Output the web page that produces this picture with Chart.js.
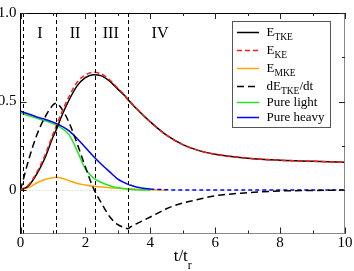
<!DOCTYPE html>
<html><head><meta charset="utf-8">
<script src="https://cdn.jsdelivr.net/npm/chart.js@4"></script>
<style>html,body{margin:0;padding:0;background:#fff;overflow:hidden}#wrap{width:354px;height:271px;position:relative}</style>
</head><body><div id="wrap"><canvas id="c" width="354" height="271"></canvas></div>
<script>
const t        = [0, 0.25, 0.5, 0.75, 1.0, 1.1, 1.25, 1.5, 1.75, 2.0, 2.25, 2.5, 2.75, 3.0, 3.2, 3.3, 3.4, 3.6, 4.0, 4.5, 5, 5.5, 6, 7, 8, 9, 10];
const eTKE     = [0, 0.025, 0.09, 0.18, 0.30, 0.34, 0.41, 0.51, 0.59, 0.635, 0.652, 0.645, 0.615, 0.57, 0.535, 0.513, 0.494, 0.455, 0.385, 0.31, 0.257, 0.223, 0.202, 0.18, 0.169, 0.163, 0.157];
const eKE      = [0, 0.03, 0.10, 0.195, 0.315, 0.36, 0.43, 0.53, 0.61, 0.65, 0.665, 0.655, 0.622, 0.575, 0.538, 0.516, 0.496, 0.456, 0.386, 0.31, 0.257, 0.223, 0.202, 0.18, 0.169, 0.163, 0.157];
const eMKE     = [0, 0.015, 0.04, 0.06, 0.07, 0.072, 0.068, 0.053, 0.037, 0.029, 0.022, 0.018, 0.014, 0.011, 0.009, 0.008, 0.007, 0.004, 0.002, 0, null, null, null, null, null, null, null];
const dEdt     = [0, 0.17, 0.31, 0.41, 0.48, 0.49, 0.465, 0.38, 0.26, 0.13, 0.01, -0.075, -0.15, -0.195, -0.212, -0.218, -0.207, -0.188, -0.152, -0.105, -0.073, -0.052, -0.032, -0.015, -0.005, -0.002, 0];
const pureLight= [0.435, 0.42, 0.405, 0.392, 0.376, 0.367, 0.352, 0.312, 0.22, 0.12, 0.068, 0.043, 0.025, 0.013, 0.008, 0.006, 0.004, 0.002, 0, null, null, null, null, null, null, null, null];
const pureHeavy= [0.445, 0.43, 0.413, 0.40, 0.384, 0.376, 0.363, 0.334, 0.29, 0.24, 0.19, 0.145, 0.103, 0.062, 0.042, 0.034, 0.027, 0.016, 0.006, 0.002, 0, 0, 0, 0, 0, 0, 0];

const xTicks = [0, 2, 4, 6, 8, 10];
const xMinorTicks = [1, 3, 5, 7, 9];
const yTicks = [0, 0.5, 1];
const yMinorTicks = [0.25, 0.75];
const regionBounds = [0.08, 1.1, 2.3, 3.3];
const regionNames = ['I', 'II', 'III', 'IV'];
const regionNameX = [0.6, 1.68, 2.78, 4.3];
const legendMain = ['E', 'E', 'E', 'dE', 'Pure light', 'Pure heavy'];
const legendSub  = ['TKE', 'KE', 'MKE', 'TKE', '', ''];
const legendTail = ['', '', '', '/dt', '', ''];

const SERIF = "'Liberation Serif', 'Times New Roman', serif";
const pts = arr => t.map((x, i) => ({x, y: arr[i]}));

const styles = [
  {color:'#000000', dash:[]},
  {color:'#ff1a1a', dash:[5,3]},
  {color:'#ffa500', dash:[]},
  {color:'#000000', dash:[7,4]},
  {color:'#22e622', dash:[]},
  {color:'#0000ff', dash:[]}
];

const datasets = [
  {label:'E_TKE', data: pts(eTKE), borderColor: styles[0].color, order: 2},
  {label:'E_KE', data: pts(eKE), borderColor: styles[1].color, borderDash: styles[1].dash, order: 1},
  {label:'E_MKE', data: pts(eMKE), borderColor: styles[2].color, order: 6},
  {label:'dE_TKE/dt', data: pts(dEdt), borderColor: styles[3].color, borderDash: styles[3].dash, order: 3},
  {label:'Pure light', data: pts(pureLight), borderColor: styles[4].color, order: 5},
  {label:'Pure heavy', data: pts(pureHeavy), borderColor: styles[5].color, order: 4,
    segment: {borderDash: c => c.p0.parsed.x >= 3.8 ? [4,3] : undefined}}
].map(d => Object.assign({borderWidth: 1.5, pointRadius: 0, fill: false, cubicInterpolationMode: 'monotone', spanGaps: false}, d));

const decor = {
  id: 'decor',
  beforeDatasetsDraw(chart) {
    const {ctx, chartArea: a, scales: {x, y}} = chart;
    ctx.save();
    ctx.strokeStyle = '#c8c8c8'; ctx.lineWidth = 1; ctx.setLineDash([1, 2]);
    const y0 = Math.round(y.getPixelForValue(0)) + 0.5;
    ctx.beginPath(); ctx.moveTo(a.left, y0); ctx.lineTo(a.right, y0); ctx.stroke();
    ctx.restore();
  },
  afterDatasetsDraw(chart) {
    const {ctx, chartArea: a, scales: {x, y}} = chart;
    ctx.save();
    // region boundaries
    ctx.strokeStyle = '#000'; ctx.lineWidth = 1; ctx.setLineDash([4, 3]);
    regionBounds.forEach(v => {
      const px = Math.round(x.getPixelForValue(v)) + 0.5;
      ctx.beginPath(); ctx.moveTo(px, a.top); ctx.lineTo(px, a.bottom); ctx.stroke();
    });
    ctx.setLineDash([]);
    // region names
    ctx.fillStyle = '#000'; ctx.font = '16px ' + SERIF; ctx.textAlign = 'center'; ctx.textBaseline = 'alphabetic';
    regionNames.forEach((n, i) => ctx.fillText(n, x.getPixelForValue(regionNameX[i]), 37.5));
    // frame top/right
    ctx.lineWidth = 1;
    ctx.strokeStyle = '#000';
    ctx.beginPath(); ctx.moveTo(a.left, a.top + 0.5); ctx.lineTo(a.right, a.top + 0.5); ctx.stroke();
    ctx.strokeStyle = '#888';
    ctx.beginPath(); ctx.moveTo(a.right - 0.5, a.top); ctx.lineTo(a.right - 0.5, a.bottom); ctx.stroke();
    // ticks
    ctx.strokeStyle = '#222';
    const tx = (vals, len) => vals.forEach(v => {
      const px = Math.round(x.getPixelForValue(v)) + 0.5;
      ctx.beginPath(); ctx.moveTo(px, a.bottom); ctx.lineTo(px, a.bottom - len);
      ctx.moveTo(px, a.top); ctx.lineTo(px, a.top + len); ctx.stroke();
    });
    const ty = (vals, len) => vals.forEach(v => {
      const py = Math.round(y.getPixelForValue(v)) + 0.5;
      ctx.beginPath(); ctx.moveTo(a.left, py); ctx.lineTo(a.left + len, py);
      ctx.moveTo(a.right, py); ctx.lineTo(a.right - len, py); ctx.stroke();
    });
    tx(xTicks, 6); tx(xMinorTicks, 3); ty(yTicks, 6); ty(yMinorTicks, 3);
    // legend
    const bx = 232.5, by = 21.5, bw = 98, bh = 106;
    ctx.fillStyle = '#fff'; ctx.fillRect(bx, by, bw, bh);
    ctx.strokeStyle = '#555'; ctx.strokeRect(bx, by, bw, bh);
    const rows = [31.7, 50, 68.3, 86, 101.7, 116.7];
    ctx.textAlign = 'left'; ctx.textBaseline = 'alphabetic';
    legendMain.forEach((m, i) => {
      const ry = Math.round(rows[i]) + 0.5;
      ctx.strokeStyle = styles[i].color; ctx.lineWidth = 1.5; ctx.setLineDash(styles[i].dash);
      ctx.beginPath(); ctx.moveTo(237, ry); ctx.lineTo(259, ry); ctx.stroke();
      ctx.setLineDash([]);
      ctx.fillStyle = '#000';
      let cx = 266.5; const base = rows[i] + 3.8;
      ctx.font = '13px ' + SERIF; ctx.fillText(m, cx, base); cx += ctx.measureText(m).width;
      if (legendSub[i]) { ctx.font = '9.5px ' + SERIF; ctx.fillText(legendSub[i], cx, base + 4); cx += ctx.measureText(legendSub[i]).width; }
      if (legendTail[i]) { ctx.font = '13px ' + SERIF; ctx.fillText(legendTail[i], cx, base); }
    });
    // axis title t/t_r
    ctx.fillStyle = '#000';
    ctx.font = '17px ' + SERIF; const w1 = ctx.measureText('t/t').width;
    ctx.font = '12px ' + SERIF; const w2 = ctx.measureText('r').width;
    const sx = (a.left + a.right) / 2 - (w1 + w2) / 2;
    ctx.font = '17px ' + SERIF; ctx.fillText('t/t', sx, 260.5);
    ctx.font = '12px ' + SERIF; ctx.fillText('r', sx + w1, 268.5);
    ctx.restore();
  }
};

new Chart(document.getElementById('c'), {
  type: 'line',
  data: {datasets},
  plugins: [decor],
  options: {
    responsive: false, animation: false, devicePixelRatio: 1,
    layout: {padding: {top: 5, right: 9, left: 0, bottom: 0}},
    plugins: {legend: {display: false}, tooltip: {enabled: false}},
    scales: {
      x: {
        type: 'linear', min: 0, max: 10,
        grid: {display: false, drawTicks: false},
        border: {display: true, color: '#888', width: 1},
        ticks: {autoSkip: false, maxRotation: 0, padding: 1, color: '#000', font: {family: SERIF, size: 15}},
        afterBuildTicks: s => { s.ticks = xTicks.map(v => ({value: v})); },
        afterFit: s => { s.height = 37.5; }
      },
      y: {
        type: 'linear', min: -0.245, max: 1,
        grid: {display: false, drawTicks: false},
        border: {display: true, color: '#000', width: 1},
        ticks: {padding: 4, color: '#000', font: {family: SERIF, size: 15}},
        afterBuildTicks: s => { s.ticks = yTicks.map(v => ({value: v})); },
        afterFit: s => { s.width = 20.5; }
      }
    }
  }
});
</script></body></html>
